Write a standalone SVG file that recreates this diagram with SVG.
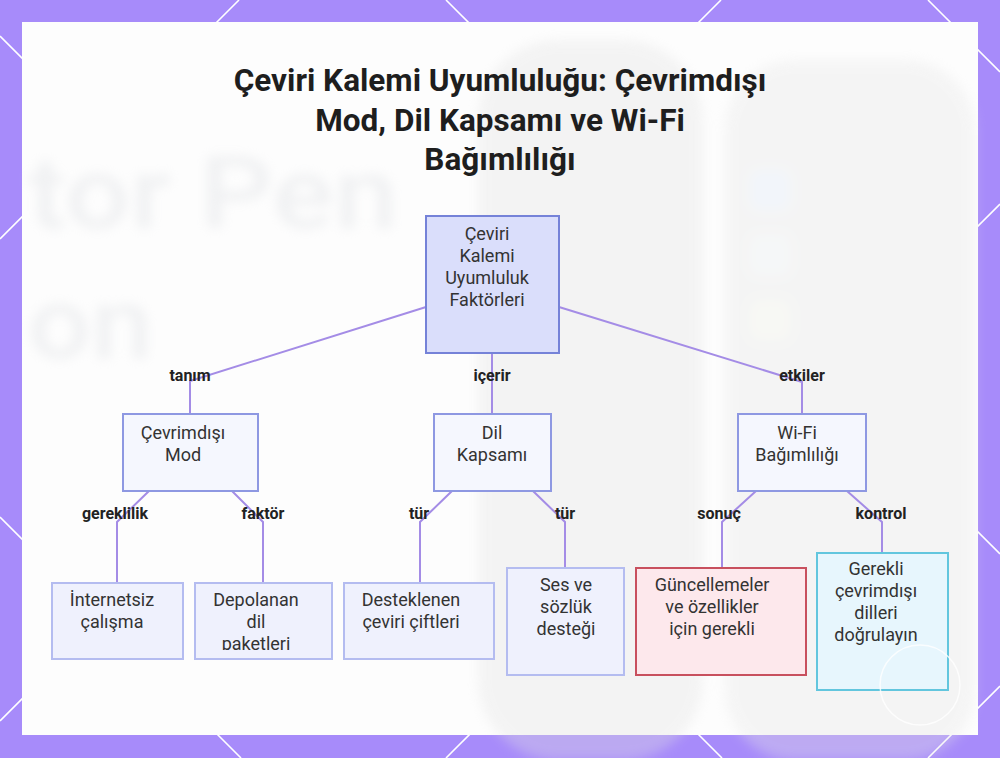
<svg xmlns="http://www.w3.org/2000/svg" width="1000" height="758" viewBox="0 0 1000 758">
<defs>
<style>
.title{font-family:Roboto,"Liberation Sans",sans-serif;font-weight:700;font-size:31.5px;fill:#1e1e1e;text-anchor:middle}
.nt{font-family:Roboto,"Liberation Sans",sans-serif;font-size:18px;fill:#333;text-anchor:middle}
.lb{font-family:Roboto,"Liberation Sans",sans-serif;font-weight:700;font-size:16px;fill:#222;text-anchor:middle}
.edge{fill:none;stroke:#a48ce6;stroke-width:2}
.mid{fill:#f5f7fe;stroke:#8e98e2;stroke-width:2}
.leaf{fill:#eff1fd;stroke:#b4bcf0;stroke-width:2}
.grid{stroke:#ffffff;stroke-width:1.6}
.bgt{font-family:Roboto,"Liberation Sans",sans-serif;font-size:100px;font-weight:500;fill:#d9dce0}
</style>
<filter id="blur" x="-20%" y="-20%" width="140%" height="140%"><feGaussianBlur stdDeviation="6"/></filter>
<clipPath id="clipDep"><rect x="195" y="583" width="137" height="67"/></clipPath>
<clipPath id="clipGer"><rect x="817" y="553" width="131" height="92"/></clipPath>
</defs>
<rect width="1000" height="758" fill="#a78bfa"/>
<g class="grid">
<line x1="239" y1="0" x2="0" y2="239"/>
<line x1="721" y1="0" x2="0" y2="721"/>
<line x1="1000" y1="204" x2="446" y2="758"/>
<line x1="1000" y1="686" x2="928" y2="758"/>
<line x1="0" y1="36" x2="722" y2="758"/>
<line x1="0" y1="517" x2="241" y2="758"/>
<line x1="446" y1="0" x2="1000" y2="554"/>
<line x1="928" y1="0" x2="1000" y2="72"/>
</g>
<rect x="22" y="22" width="956" height="713" fill="#fdfdfd"/>
<g id="bg" filter="url(#blur)" opacity="0.35">
<text class="bgt" x="28" y="228" textLength="370" lengthAdjust="spacingAndGlyphs">tor Pen</text>
<text class="bgt" x="28" y="358" textLength="125" lengthAdjust="spacingAndGlyphs">on</text>
<rect x="478" y="40" width="225" height="720" rx="80" fill="#e2e2e2"/>
<rect x="725" y="60" width="250" height="700" rx="70" fill="#e6e6e6"/>
<rect x="750" y="170" width="40" height="40" rx="10" fill="#dfe9f7"/>
<rect x="750" y="235" width="40" height="40" rx="10" fill="#e9eef0"/>
<rect x="750" y="300" width="40" height="40" rx="10" fill="#eef0e6"/>
</g>
<g id="title">
<text class="title" x="500" y="91">Çeviri Kalemi Uyumluluğu: Çevrimdışı</text>
<text class="title" x="500" y="131">Mod, Dil Kapsamı ve Wi-Fi</text>
<text class="title" x="500" y="170">Bağımlılığı</text>
</g>
<g id="connectors">
<polyline class="edge" points="426,307 190,381 190,414"/>
<polyline class="edge" points="492,353 492,414"/>
<polyline class="edge" points="559,307 802,382 802,414"/>
<polyline class="edge" points="149,491 117,522 117,583"/>
<polyline class="edge" points="232,491 263,522 263,583"/>
<polyline class="edge" points="452,491 420,522 420,583"/>
<polyline class="edge" points="533,491 565,522 565,568"/>
<polyline class="edge" points="756,491 722,522 722,568"/>
<polyline class="edge" points="847,491 882,522 882,553"/>
<g id="labels">
<text class="lb" x="190" y="381">tanım</text>
<text class="lb" x="492" y="381">içerir</text>
<text class="lb" x="802" y="381">etkiler</text>
<text class="lb" x="115" y="519">gereklilik</text>
<text class="lb" x="263" y="519">faktör</text>
<text class="lb" x="419" y="519">tür</text>
<text class="lb" x="565" y="519">tür</text>
<text class="lb" x="719" y="519">sonuç</text>
<text class="lb" x="881" y="519">kontrol</text>
</g>
</g>
<g id="root">
<rect x="426" y="216" width="133" height="137" fill="#dadefb" stroke="#7582d8" stroke-width="2"/>
<text class="nt" x="487" y="240">Çeviri</text>
<text class="nt" x="487" y="262">Kalemi</text>
<text class="nt" x="487" y="284">Uyumluluk</text>
<text class="nt" x="487" y="306">Faktörleri</text>
</g>
<g id="cevrimdisi">
<rect class="mid" x="123" y="414" width="135" height="77"/>
<text class="nt" x="183" y="439">Çevrimdışı</text>
<text class="nt" x="183" y="461">Mod</text>
</g>
<g id="dil">
<rect class="mid" x="434" y="414" width="117" height="77"/>
<text class="nt" x="492" y="439">Dil</text>
<text class="nt" x="492" y="461">Kapsamı</text>
</g>
<g id="wifi">
<rect class="mid" x="738" y="414" width="128" height="77"/>
<text class="nt" x="797" y="439">Wi-Fi</text>
<text class="nt" x="797" y="461">Bağımlılığı</text>
</g>
<g id="internetsiz">
<rect class="leaf" x="52" y="583" width="131" height="76"/>
<text class="nt" x="112" y="606">İnternetsiz</text>
<text class="nt" x="112" y="628">çalışma</text>
</g>
<g id="depolanan">
<rect class="leaf" x="195" y="583" width="137" height="76"/>
<g clip-path="url(#clipDep)">
<text class="nt" x="256" y="606">Depolanan</text>
<text class="nt" x="256" y="628">dil</text>
<text class="nt" x="256" y="650">paketleri</text>
</g>
</g>
<g id="desteklenen">
<rect class="leaf" x="344" y="583" width="150" height="76"/>
<text class="nt" x="411" y="606">Desteklenen</text>
<text class="nt" x="411" y="628">çeviri çiftleri</text>
</g>
<g id="ses">
<rect class="leaf" x="507" y="568" width="117" height="107"/>
<text class="nt" x="566" y="591">Ses ve</text>
<text class="nt" x="566" y="613">sözlük</text>
<text class="nt" x="566" y="635">desteği</text>
</g>
<g id="guncelleme">
<rect x="636" y="568" width="170" height="107" fill="#fde8ec" stroke="#c8505e" stroke-width="2"/>
<text class="nt" x="712" y="591">Güncellemeler</text>
<text class="nt" x="712" y="613">ve özellikler</text>
<text class="nt" x="712" y="635">için gerekli</text>
</g>
<g id="gerekli">
<rect x="817" y="553" width="131" height="137" fill="#e7f6fd" stroke="#62c6de" stroke-width="2"/>
<g clip-path="url(#clipGer)">
<text class="nt" x="876" y="575">Gerekli</text>
<text class="nt" x="876" y="597">çevrimdışı</text>
<text class="nt" x="876" y="619">dilleri</text>
<text class="nt" x="876" y="641">doğrulayın</text>
</g>
</g>
<circle cx="920" cy="685" r="40" fill="none" stroke="#ffffff" stroke-width="1.5" opacity="0.8"/>
</svg>
